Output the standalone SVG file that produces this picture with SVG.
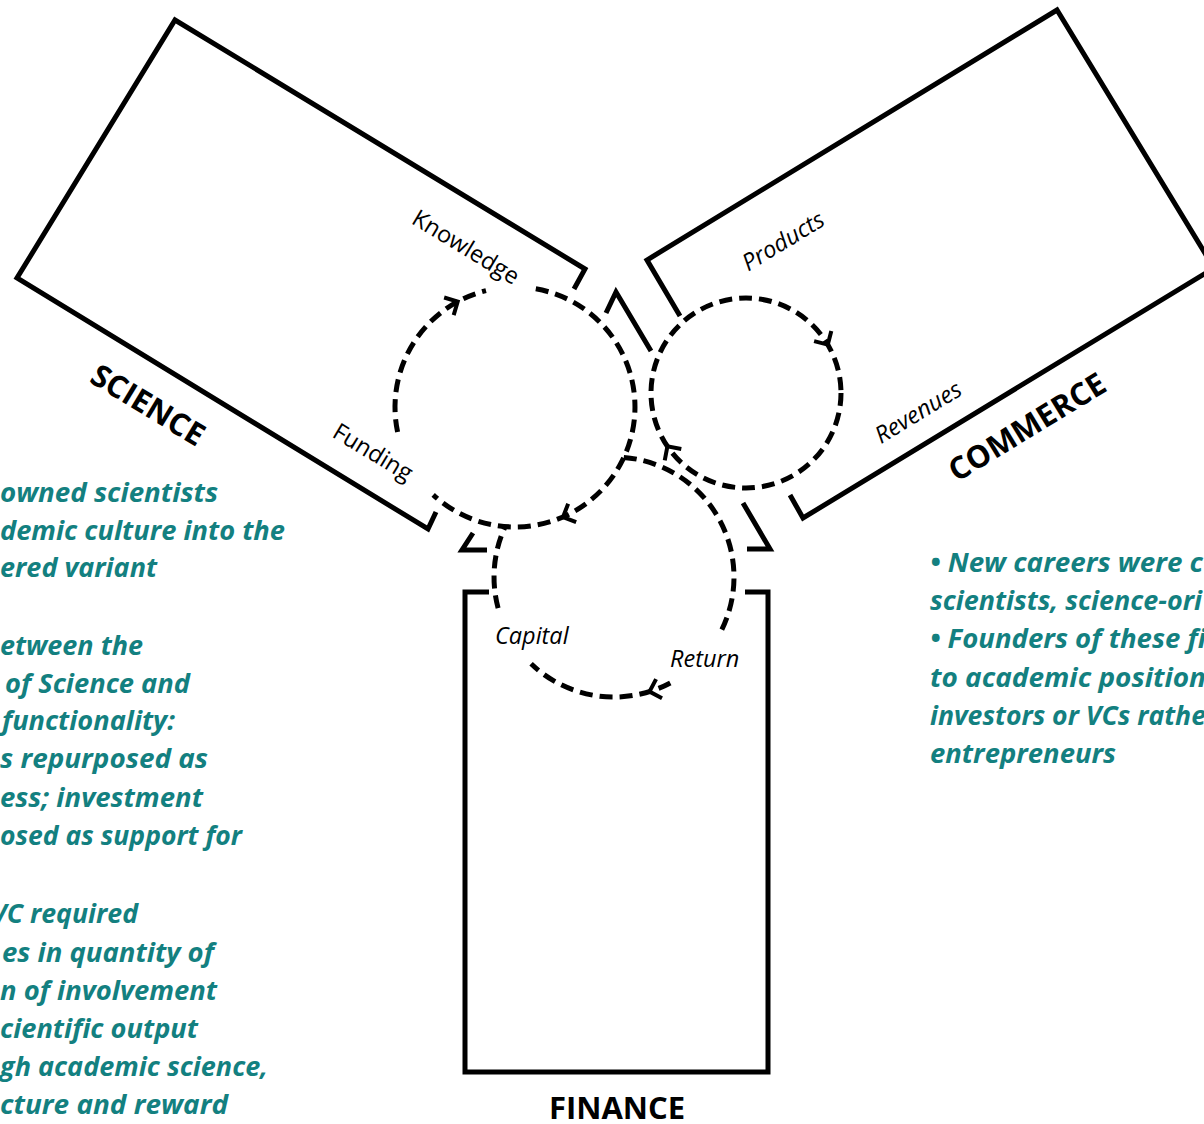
<svg xmlns="http://www.w3.org/2000/svg" width="1204" height="1124" viewBox="0 0 1204 1124">
<style>
.box{fill:none;stroke:#000;stroke-width:5;stroke-linejoin:miter;stroke-linecap:butt}
.flow{fill:none;stroke:#000;stroke-width:5;stroke-dasharray:13 7}
.ah{fill:none;stroke:#000;stroke-width:4;stroke-linecap:butt}
.lbl{font-family:"Open Sans","DejaVu Sans",sans-serif;font-size:23.5px;fill:#000}
.it{font-style:italic}
.big{font-family:"Open Sans","DejaVu Sans",sans-serif;font-size:31px;font-weight:bold;fill:#000}
.note{font-family:"Open Sans","Lato",sans-serif;font-size:27px;font-weight:bold;font-style:italic;fill:#138080}
</style>
<defs>
<path id="arrow" class="ah" d="M -10 -10 L 0 0 L -10 10"/>
</defs>
<rect width="1204" height="1124" fill="#fff"/>

<g id="science">
<path class="box" d="M 574,289 L 585,269 L 175,20 L 17,278 L 428,529 L 436,512"/>
<text class="big" transform="translate(148,405) rotate(31.2)" text-anchor="middle" dy="0.35em">SCIENCE</text>
</g>

<g id="commerce">
<path class="box" d="M 680,316 L 647,260 L 1057,10 L 1214,268 L 803,518 L 790,495"/>
<text class="big" transform="translate(1027,427) rotate(-31.3)" text-anchor="middle" dy="0.35em">COMMERCE</text>
</g>

<g id="finance">
<path class="box" d="M 489,592 L 465,592 L 465,1072 L 768,1072 L 768,592 L 745,592"/>
<text class="big" x="617" y="1119" text-anchor="middle">FINANCE</text>
</g>

<g id="hub">
<path class="box" d="M 606,313 L 616,292 L 651,351"/>
<path class="box" d="M 743,503 L 770,549 L 747,549"/>
<path class="box" d="M 473,533 L 462,550 L 487,550"/>
</g>

<g id="connectors">
<path class="flow" d="M 397.6,431.9 A 120 120 0 0 1 486.0,290.6"/>
<path class="flow" d="M 535.8,288.8 A 120 120 0 1 1 433.2,494.8"/>
<path class="flow" d="M 623.8,457.4 A 120 120 0 0 1 721.1,631.1"/>
<path class="flow" d="M 670.3,683.0 A 120 120 0 0 1 531.1,663.8"/>
<path class="flow" d="M 498.1,608.1 A 120 120 0 0 1 505.1,526.7"/>
<circle class="flow" cx="746" cy="393" r="95"/>
<use href="#arrow" transform="translate(457.7,301.5) rotate(-28.5)"/>
<use href="#arrow" transform="translate(563,517) rotate(156.4)"/>
<use href="#arrow" transform="translate(827.8,344.6) rotate(59.4)"/>
<use href="#arrow" transform="translate(667.4,446.4) rotate(235.8)"/>
<use href="#arrow" transform="translate(649.5,691.6) rotate(162.8)"/>
</g>

<g id="flow-labels">
<text class="lbl" transform="translate(466,247) rotate(31.2)" text-anchor="middle" dy="0.35em">Knowledge</text>
<text class="lbl" transform="translate(373,452) rotate(31.2)" text-anchor="middle" dy="0.35em">Funding</text>
<text class="lbl it" transform="translate(783,241) rotate(-31.3)" text-anchor="middle" dy="0.35em">Products</text>
<text class="lbl it" transform="translate(918,412) rotate(-31.3)" text-anchor="middle" dy="0.35em">Revenues</text>
<text class="lbl it" x="495" y="644">Capital</text>
<text class="lbl it" x="670" y="667">Return</text>
</g>

<g id="notes-left">
<text class="note" x="0" y="502" textLength="218" lengthAdjust="spacingAndGlyphs">owned scientists</text>
<text class="note" x="0" y="540" textLength="285" lengthAdjust="spacingAndGlyphs">demic culture into the</text>
<text class="note" x="0" y="577" textLength="157" lengthAdjust="spacingAndGlyphs">ered variant</text>
<text class="note" x="0" y="655" textLength="143" lengthAdjust="spacingAndGlyphs">etween the</text>
<text class="note" x="5" y="693" textLength="185" lengthAdjust="spacingAndGlyphs">of Science and</text>
<text class="note" x="2" y="730" textLength="173" lengthAdjust="spacingAndGlyphs">functionality:</text>
<text class="note" x="0" y="768" textLength="208" lengthAdjust="spacingAndGlyphs">s repurposed as</text>
<text class="note" x="0" y="807" textLength="203" lengthAdjust="spacingAndGlyphs">ess; investment</text>
<text class="note" x="0" y="845" textLength="242" lengthAdjust="spacingAndGlyphs">osed as support for</text>
<text class="note" x="-9" y="923" textLength="147" lengthAdjust="spacingAndGlyphs">VC required</text>
<text class="note" x="2" y="962" textLength="212" lengthAdjust="spacingAndGlyphs">es in quantity of</text>
<text class="note" x="0" y="1000" textLength="217" lengthAdjust="spacingAndGlyphs">n of involvement</text>
<text class="note" x="0" y="1038" textLength="198" lengthAdjust="spacingAndGlyphs">cientific output</text>
<text class="note" x="0" y="1076" textLength="268" lengthAdjust="spacingAndGlyphs">gh academic science,</text>
<text class="note" x="0" y="1114" textLength="228" lengthAdjust="spacingAndGlyphs">cture and reward</text>
</g>

<g id="notes-right">
<text class="note" x="930" y="572" textLength="273" lengthAdjust="spacingAndGlyphs">• New careers were c</text>
<text class="note" x="930" y="610" textLength="272" lengthAdjust="spacingAndGlyphs">scientists, science-ori</text>
<text class="note" x="930" y="648" textLength="276" lengthAdjust="spacingAndGlyphs">• Founders of these fi</text>
<text class="note" x="930" y="687" textLength="276" lengthAdjust="spacingAndGlyphs">to academic position</text>
<text class="note" x="930" y="725" textLength="276" lengthAdjust="spacingAndGlyphs">investors or VCs rathe</text>
<text class="note" x="930" y="763" textLength="186" lengthAdjust="spacingAndGlyphs">entrepreneurs</text>
</g>
</svg>
